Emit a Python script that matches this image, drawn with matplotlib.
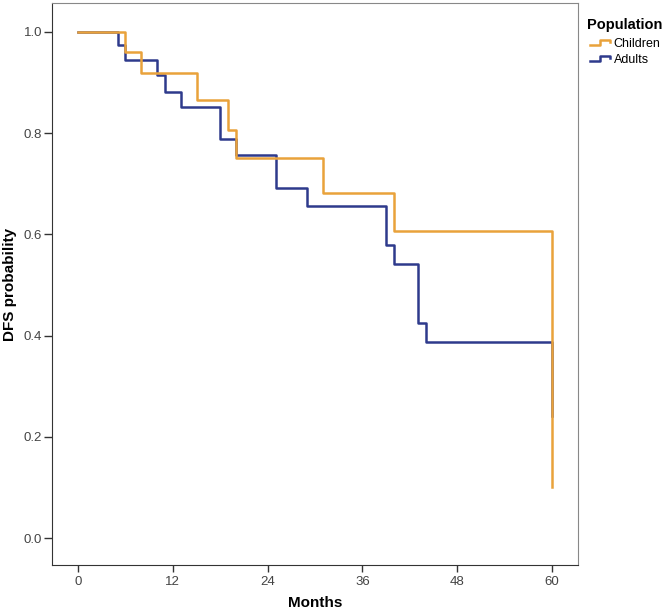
import matplotlib
matplotlib.use("Agg")
import matplotlib.pyplot as plt
from matplotlib.lines import Line2D
from matplotlib.legend_handler import HandlerBase

plt.rcParams["font.family"] = ["Liberation Sans", "DejaVu Sans"]

# Kaplan-Meier step data (months, DFS probability)
children_t = [0, 6, 8, 15, 19, 20, 31, 40, 60, 60]
children_s = [1.0, 0.960, 0.918, 0.865, 0.806, 0.750, 0.681, 0.607, 0.101, 0.101]

adults_t = [0, 5, 6, 10, 11, 13, 18, 20, 25, 29, 39, 40, 43, 44, 60, 60]
adults_s = [1.0, 0.974, 0.945, 0.914, 0.882, 0.851, 0.788, 0.756, 0.691, 0.656,
            0.579, 0.541, 0.425, 0.387, 0.242, 0.242]

x_ticks = [0, 12, 24, 36, 48, 60]
y_ticks = [0.0, 0.2, 0.4, 0.6, 0.8, 1.0]

ORANGE = "#E9A23B"
BLUE = "#2E3A8C"
W, H = 671, 612


class StepHandler(HandlerBase):
    # small step-shaped legend key, like the SPSS one
    def create_artists(self, legend, orig_handle, xdescent, ydescent,
                       width, height, fontsize, trans):
        w, h = width, height
        xs = [0, w * 0.45, w * 0.45, w * 0.9, w * 0.9]
        ys = [h * 0.2, h * 0.2, h * 0.8, h * 0.8, h * 0.55]
        ln = Line2D(xs, ys, color=orig_handle.get_color(),
                    linewidth=orig_handle.get_linewidth(), transform=trans)
        return [ln]


def main():
    fig = plt.figure(figsize=(W / 100, H / 100), dpi=100)
    ax = fig.add_axes([52 / W, 47 / H, 526 / W, 562 / H])

    ax.step(adults_t, adults_s, where="post", color=BLUE, linewidth=1.8, zorder=2)
    ax.step(children_t, children_s, where="post", color=ORANGE, linewidth=1.8, zorder=3)

    ax.set_xlim(-3.3, 63.3)
    ax.set_ylim(-0.053, 1.057)
    ax.set_xticks(x_ticks)
    ax.set_yticks(y_ticks)
    ax.set_yticklabels([f"{v:.1f}" for v in y_ticks])
    ax.tick_params(axis="y", direction="out", length=6, width=1, pad=1,
                   color="#333333", labelsize=9.5, labelcolor="#444444")
    ax.tick_params(axis="x", direction="out", length=5, width=1, pad=3,
                   color="#333333", labelsize=9.5, labelcolor="#444444")

    for side in ["left", "bottom"]:
        ax.spines[side].set_color("#333333")
    for side in ["right", "top"]:
        ax.spines[side].set_color("#888888")

    ax.set_xlabel("Months", fontsize=11, fontweight="bold", labelpad=6)
    ax.set_ylabel("DFS probability", fontsize=11, fontweight="bold")
    ax.yaxis.set_label_coords(-0.067, 0.5)

    fig.text(587 / W, 1 - 25 / H, "Population", fontsize=10.5, fontweight="bold",
             ha="left", va="center")
    handles = [Line2D([], [], color=ORANGE, linewidth=1.8),
               Line2D([], [], color=BLUE, linewidth=1.8)]
    fig.legend(handles, ["Children", "Adults"],
               loc="upper left", bbox_to_anchor=(590 / W, 1 - 38 / H),
               bbox_transform=fig.transFigure, frameon=False, fontsize=9,
               borderpad=0, borderaxespad=0, handlelength=1.75,
               handletextpad=0.15, labelspacing=0.3,
               handler_map={Line2D: StepHandler()})

    fig.savefig("out.png", dpi=100)


if __name__ == "__main__":
    main()
